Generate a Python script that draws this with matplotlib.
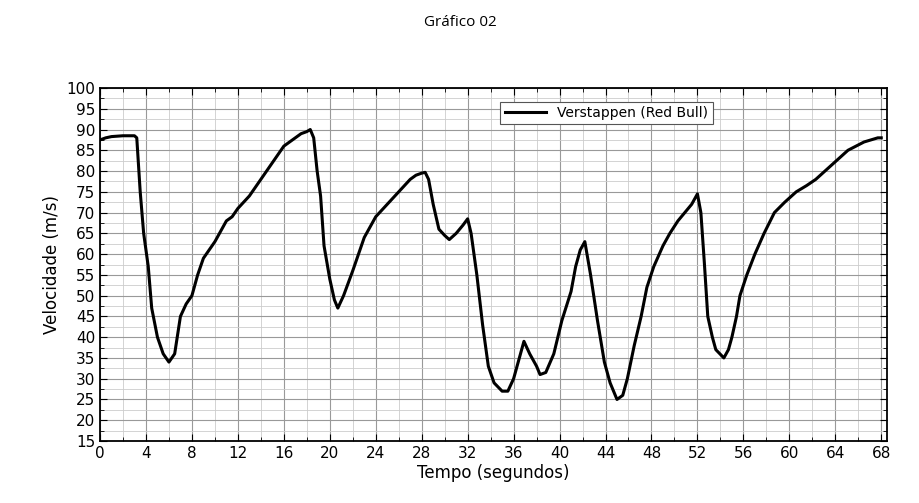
import matplotlib
matplotlib.use("Agg")
import matplotlib.pyplot as plt
from matplotlib.ticker import MultipleLocator

tempo = [0, 0.5, 1, 2, 3, 3.2, 3.5, 3.8, 4.2, 4.5,
         5, 5.5, 6, 6.5, 7, 7.5, 8, 8.5, 9, 10,
         11, 11.5, 12, 13, 14, 15, 16, 17, 17.5, 18,
         18.3, 18.6, 18.9, 19.2, 19.5, 20, 20.4, 20.7, 21.2, 22,
         23, 24, 25, 26, 27, 27.5, 28, 28.3, 28.6, 29,
         29.5, 30, 30.4, 31, 31.6, 32, 32.3, 32.8, 33.3, 33.8,
         34.3, 35, 35.5, 36, 36.5, 36.9, 37.4, 38, 38.3, 38.8,
         39.5, 40.2, 41, 41.4, 41.8, 42.2, 42.7, 43.3, 43.9, 44.4,
         45, 45.5, 45.9, 46.5, 47.1, 47.6, 48.2, 49, 49.6, 50.3,
         50.9, 51.5, 52, 52.3, 52.6, 52.9, 53.3, 53.6, 54.3, 54.7,
         55, 55.4, 55.7, 56.3, 57, 57.8, 58.7, 59.6, 60.6, 61.5,
         62.3, 63.1, 63.9, 64.5, 65.1, 65.8, 66.5, 67.1, 67.7, 68]
veloc = [87.5, 88, 88.3, 88.5, 88.5, 88, 75, 65, 57, 47,
         40, 36, 34, 36, 45, 48, 50, 55, 59, 63,
         68, 69, 71, 74, 78, 82, 86, 88, 89, 89.5,
         90, 88, 80, 74, 62, 54, 49, 47, 50, 56,
         64, 69, 72, 75, 78, 79, 79.5, 79.7, 78, 72,
         66, 64.5, 63.5, 65, 67, 68.5, 65, 55, 43, 33,
         29, 27, 27, 30, 35, 39, 36, 33, 31, 31.5,
         36, 44, 51, 57, 61, 63, 55, 44, 34, 29,
         25, 26, 30, 38, 45, 52, 57, 62, 65, 68,
         70, 72, 74.5, 70, 58, 45, 40, 37, 35, 37,
         40, 45, 50, 55, 60, 65, 70, 72.5, 75, 76.5,
         78, 80, 82, 83.5, 85, 86, 87, 87.5, 88, 88]

fig = plt.figure(figsize=(9.2, 5.03), dpi=100)
fig.text(0.5, 0.955, "Gráfico 02", ha="center", va="center", fontsize=11, family="Open Sans")
ax = fig.add_axes([100/920, 62/503, 787/920, 353/503])
ax.plot(tempo, veloc, color="black", lw=2.2, label="Verstappen (Red Bull)")
ax.set_xlim(0, 68.5)
ax.set_ylim(15, 100)
ax.xaxis.set_major_locator(MultipleLocator(4))
ax.xaxis.set_minor_locator(MultipleLocator(2))
ax.yaxis.set_major_locator(MultipleLocator(5))
ax.yaxis.set_minor_locator(MultipleLocator(2.5))
ax.grid(which="major", color="#999999", lw=0.8)
ax.grid(which="minor", color="#cccccc", lw=0.6)
ax.tick_params(which="both", direction="in", top=True, right=True, labelsize=11)
ax.tick_params(which="major", length=5)
ax.tick_params(which="minor", length=3)
for s in ax.spines.values():
    s.set_linewidth(1.3)
ax.set_xlabel("Tempo (segundos)", fontsize=12, labelpad=2)
ax.set_ylabel("Velocidade (m/s)", fontsize=12, labelpad=4)
leg = ax.legend(loc="upper left", bbox_to_anchor=(0.5, 0.98), fontsize=10, frameon=True,
                fancybox=False, edgecolor="#555555", framealpha=1, handlelength=3, borderpad=0.3)
leg.get_frame().set_linewidth(0.8)
fig.savefig("out.png")
